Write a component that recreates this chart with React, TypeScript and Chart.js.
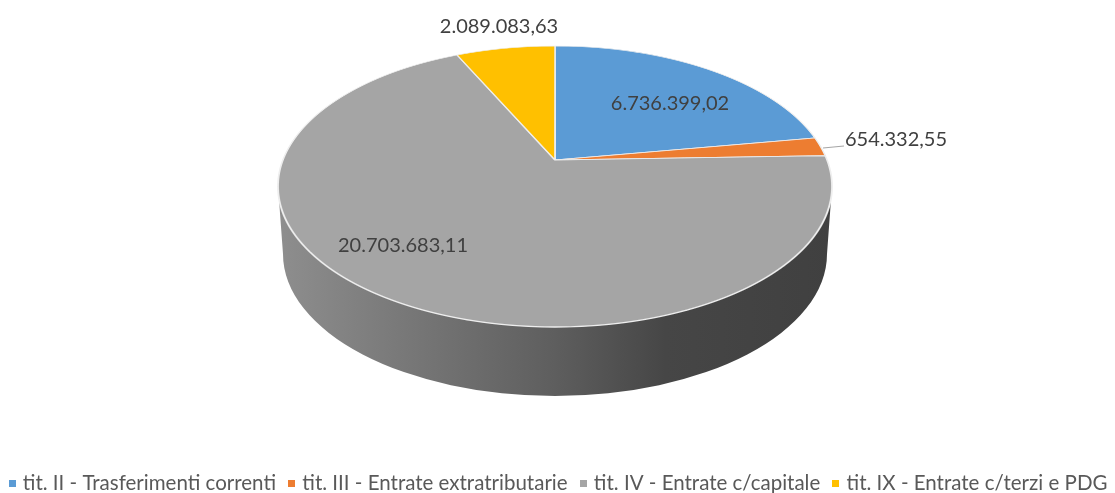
import React, { useEffect, useRef } from "react";
import { Chart, registerables } from "chart.js";

Chart.register(...registerables);

const categories = [
  "tit. II - Trasferimenti correnti",
  "tit. III - Entrate extratributarie",
  "tit. IV - Entrate c/capitale",
  "tit. IX - Entrate c/terzi e PDG",
];
const values = [6736399.02, 654332.55, 20703683.11, 2089083.63];
const valueLabels = ["6.736.399,02", "654.332,55", "20.703.683,11", "2.089.083,63"];
const colors = ["#5B9BD5", "#ED7D31", "#A5A5A5", "#FFC000"];

const FONT = 'Lato, "Open Sans", sans-serif';
// Perspective projection of the pie's disc on to the page
const APEX_X = 555;
const APEX_Y = 160;
const PERSP = -53 / 281;
const AMP_Y = 135.5;
const AMP_X = 272;
const TOP = 40;
const BOTTOM = 335;

const labelSpots = [
  { x: 670, y: 104 },
  { x: 896, y: 140 },
  { x: 403, y: 246 },
  { x: 499, y: 27 },
];

const legendSquare = (color: string) => {
  const c = document.createElement("canvas");
  c.width = 7;
  c.height = 7;
  const g = c.getContext("2d")!;
  g.fillStyle = color;
  g.fillRect(0, 0, 7, 7);
  return c;
};

const wallPlugin = {
  id: "pie3d",
  beforeDatasetDraw(chart: any, args: any) {
    const ctx: CanvasRenderingContext2D = chart.ctx;
    const arc = args.meta.data[0];
    if (!arc) return;
    const { x: cx, y: cy, outerRadius: R } = arc.getProps(["x", "y", "outerRadius"], true);

    // side wall
    const g = ctx.createLinearGradient(278, 0, 832, 0);
    g.addColorStop(0, "#8e8e8e");
    g.addColorStop(0.25, "#767676");
    g.addColorStop(0.5, "#5e5e5e");
    g.addColorStop(0.7, "#464646");
    g.addColorStop(1, "#404040");
    ctx.save();
    ctx.fillStyle = g;
    ctx.beginPath();
    ctx.moveTo(278, 186);
    ctx.lineTo(283, 254);
    ctx.ellipse(APEX_X, 254, 272, 142, 0, Math.PI, 0, true);
    ctx.lineTo(832, 186);
    ctx.closePath();
    ctx.fill();
    ctx.restore();

    // top disc, drawn row by row through the projection
    const toV = (py: number) => {
      const d = py - APEX_Y;
      return d / (AMP_Y - PERSP * d);
    };
    for (let y0 = TOP; y0 < BOTTOM; y0++) {
      const y1 = y0 + 1;
      const v0 = toV(y0);
      const v1 = toV(y1);
      const sy = 1 / ((v1 - v0) * R);
      const sx = AMP_X / (R * (1 + PERSP * (v0 + v1) * 0.5));
      ctx.save();
      ctx.beginPath();
      ctx.rect(0, y0, chart.width, 1);
      ctx.clip();
      ctx.setTransform(sx, 0, 0, sy, APEX_X - sx * cx, y0 - sy * (cy + v0 * R));
      args.meta.controller.draw();
      ctx.restore();
    }
    return false;
  },
  afterDatasetsDraw(chart: any) {
    const ctx: CanvasRenderingContext2D = chart.ctx;
    ctx.save();
    ctx.strokeStyle = "#a6a6a6";
    ctx.lineWidth = 1.2;
    ctx.beginPath();
    ctx.moveTo(823, 148);
    ctx.lineTo(844, 146);
    ctx.stroke();
    ctx.font = `20px ${FONT}`;
    ctx.fillStyle = "#404040";
    ctx.textAlign = "center";
    ctx.textBaseline = "middle";
    valueLabels.forEach((t, i) => ctx.fillText(t, labelSpots[i].x, labelSpots[i].y));
    ctx.restore();
  },
};

export default function App() {
  const ref = useRef<HTMLCanvasElement>(null);
  useEffect(() => {
    const defaults: any = (Chart as any).overrides.pie.plugins.legend.labels;
    const chart = new Chart(ref.current!, {
      type: "pie",
      data: {
        labels: categories,
        datasets: [
          {
            data: values,
            backgroundColor: colors,
            borderColor: "#eeeeee",
            borderWidth: 1.4,
          },
        ],
      },
      plugins: [wallPlugin],
      options: {
        animation: false,
        responsive: false,
        layout: { padding: { left: -6, right: -10, top: 10, bottom: -11 } },
        plugins: {
          title: { display: false },
          tooltip: { enabled: false },
          legend: {
            display: true,
            position: "bottom",
            labels: {
              usePointStyle: true,
              pointStyleWidth: 1,
              padding: 15,
              color: "#595959",
              font: { family: FONT, size: 20.5 },
              generateLabels: (c: any) =>
                defaults.generateLabels(c).map((item: any, i: number) => ({
                  ...item,
                  pointStyle: legendSquare(colors[i]),
                })),
            },
          },
        },
      },
    } as any);
    return () => chart.destroy();
  }, []);
  return (
    <canvas
      ref={ref}
      width={1115}
      height={493}
      style={{ position: "fixed", left: 0, top: 0, width: 1115, height: 493, filter: "blur(0.7px)" }}
    />
  );
}
